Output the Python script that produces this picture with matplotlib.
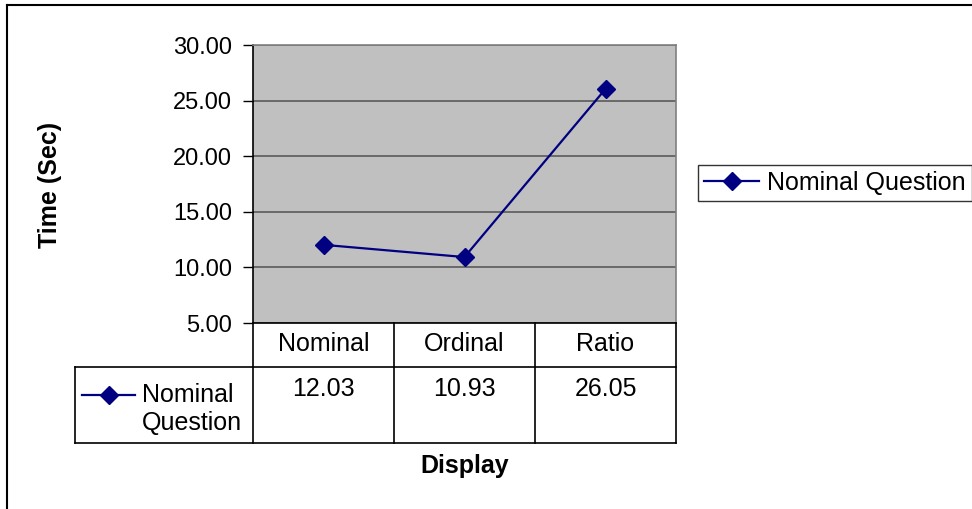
import matplotlib.pyplot as plt
from matplotlib.lines import Line2D

plt.rcParams['font.family'] = ['Liberation Sans', 'DejaVu Sans']

categories = ["Nominal", "Ordinal", "Ratio"]
series_name = "Nominal Question"
times = [12.03, 10.93, 26.05]
y_ticks = [5, 10, 15, 20, 25, 30]

W, H = 972, 509
fig = plt.figure(figsize=(W / 100, H / 100), dpi=100)


def fig_box(x0, y0, x1, y1):
    # pixel box (top-left origin) -> figure fraction rect
    return [x0 / W, 1 - y1 / H, (x1 - x0) / W, (y1 - y0) / H]


navy = "#000080"
fs = 18

# outer chart frame (top and left edges)
fig.add_artist(Line2D([7 / W, 7 / W], [0, 1 - 5 / H], transform=fig.transFigure,
                      color="black", lw=1.5))
fig.add_artist(Line2D([7 / W, 1], [1 - 5 / H, 1 - 5 / H], transform=fig.transFigure,
                      color="black", lw=1.5))

# plot area
ax = fig.add_axes(fig_box(253, 45, 676, 323))
ax.set_facecolor("#c0c0c0")
x = [i + 0.5 for i in range(len(categories))]
ax.plot(x, times, color=navy, lw=1.6, marker="D", markersize=9,
        label=series_name, zorder=3)
ax.set_xlim(0, len(categories))
ax.set_ylim(y_ticks[0], y_ticks[-1])
ax.set_yticks(y_ticks)
ax.set_yticklabels([f"{t:.2f}" for t in y_ticks], fontsize=17)
ax.set_xticks([])
ax.yaxis.grid(True, color="#5a5a5a", lw=1.2)
ax.set_axisbelow(True)
ax.tick_params(axis="y", length=7, width=1, color="black", pad=8)
for name, sp in ax.spines.items():
    sp.set_color("#808080")
    sp.set_linewidth(1.2)
ax.spines["left"].set_color("black")
ax.spines["bottom"].set_color("black")

fig.text(50 / W, 1 - 185 / H, "Time (Sec)", rotation=90, ha="center", va="center",
         fontsize=fs, fontweight="bold")

# data table under the plot
first_col = 178 / 141
tab = fig.add_axes(fig_box(75, 323, 676, 443))
tab.set_xlim(-first_col, len(categories))
tab.set_ylim(0, 120)
tab.invert_yaxis()
tab.axis("off")
lk = dict(color="black", lw=1.2, clip_on=False)
tab.plot([0, 0], [0, 120], **lk)
tab.plot([len(categories)] * 2, [0, 120], **lk)
for i in range(1, len(categories)):
    tab.plot([i, i], [0, 120], **lk)
tab.plot([-first_col, len(categories)], [44, 44], **lk)
tab.plot([-first_col, len(categories)], [120, 120], **lk)
tab.plot([-first_col, -first_col], [44, 120], **lk)
for xi, cat, val in zip(x, categories, times):
    tab.text(xi, 21, cat, ha="center", va="center", fontsize=fs)
    tab.text(xi, 66, f"{val:.2f}", ha="center", va="center", fontsize=fs)
# legend key inside the table
tab.plot([-first_col + 7 / 141, -first_col + 60 / 141], [72, 72], color=navy, lw=1.6)
tab.plot([-first_col + 34 / 141], [72], color=navy, marker="D", markersize=9)
tab.text(-first_col + 67 / 141, 86, "Nominal\nQuestion", ha="left", va="center",
         fontsize=fs, linespacing=1.2)

fig.text(465 / W, 1 - 466 / H, "Display", ha="center", va="center",
         fontsize=fs, fontweight="bold")

# legend on the right
leg = fig.legend(handles=ax.get_lines(), loc="center left",
                 bbox_to_anchor=(698 / W, 1 - 183 / H), fontsize=fs,
                 frameon=True, fancybox=False, edgecolor="black",
                 borderpad=0.25, handlelength=2.2, handletextpad=0.3,
                 borderaxespad=0)
leg.get_frame().set_linewidth(1.0)

fig.savefig("out.png", dpi=100)
